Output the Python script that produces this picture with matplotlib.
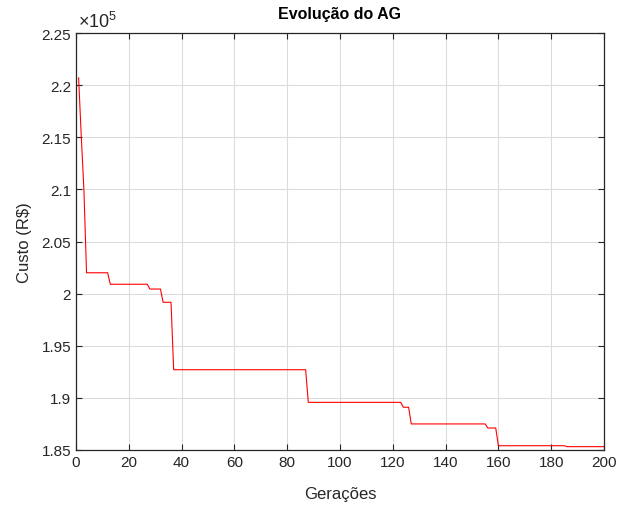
import matplotlib
matplotlib.use("Agg")
import matplotlib.pyplot as plt
from matplotlib.ticker import FuncFormatter, MultipleLocator

plt.rcParams['font.family'] = ['Liberation Sans', 'DejaVu Sans']
plt.rcParams['mathtext.fontset'] = 'custom'
plt.rcParams['mathtext.rm'] = 'Liberation Sans'

# Best cost per generation of the genetic algorithm (vertices of the curve)
generations = [1, 2, 3, 4, 12, 13, 27, 28, 32, 33, 36, 37, 87, 88,
               123, 124, 126, 127, 155, 156, 159, 160, 185, 186, 200]
best_cost = [220700, 215100, 210000, 202000, 202000, 200900, 200900, 200440,
             200440, 199170, 199170, 192700, 192700, 189570, 189570, 189100,
             189100, 187500, 187500, 187110, 187110, 185410, 185410, 185320,
             185320]

x_ticks = list(range(0, 201, 20))
y_min, y_max = 185000, 225000

fig = plt.figure(figsize=(6.3, 5.06), dpi=100)
ax = fig.add_axes([0.1206, 0.1087, 0.8381, 0.8241])

ax.plot(generations, best_cost, color='#ff0000', lw=0.8)

ax.set_xlim(0, 200)
ax.set_ylim(y_min, y_max)
ax.set_xticks(x_ticks)
ax.yaxis.set_major_locator(MultipleLocator(5000))
ax.yaxis.set_major_formatter(FuncFormatter(lambda v, p: f"{v / 1e5:g}"))

axis_color = '#262626'
for s in ax.spines.values():
    s.set_color(axis_color)
    s.set_linewidth(0.9)
ax.tick_params(direction='in', length=4, width=0.8, colors=axis_color,
               labelcolor=axis_color, labelsize=11, top=True, right=True)
ax.grid(True, color='#dcdcdc', lw=0.8)
ax.set_axisbelow(True)

ax.set_title("Evolução do AG", fontsize=11.5, fontweight='bold', pad=11,
             color='#000000')
ax.set_xlabel("Gerações", fontsize=12, color=axis_color, labelpad=12)
ax.set_ylabel(r"Custo (R\$)", fontsize=12, color=axis_color, labelpad=7)

ax.text(0.003, 1.006, r"$\mathregular{\times10^{5}}$", transform=ax.transAxes,
        fontsize=13, color=axis_color, ha='left', va='bottom')

fig.savefig("out.png", dpi=100, facecolor='white')
